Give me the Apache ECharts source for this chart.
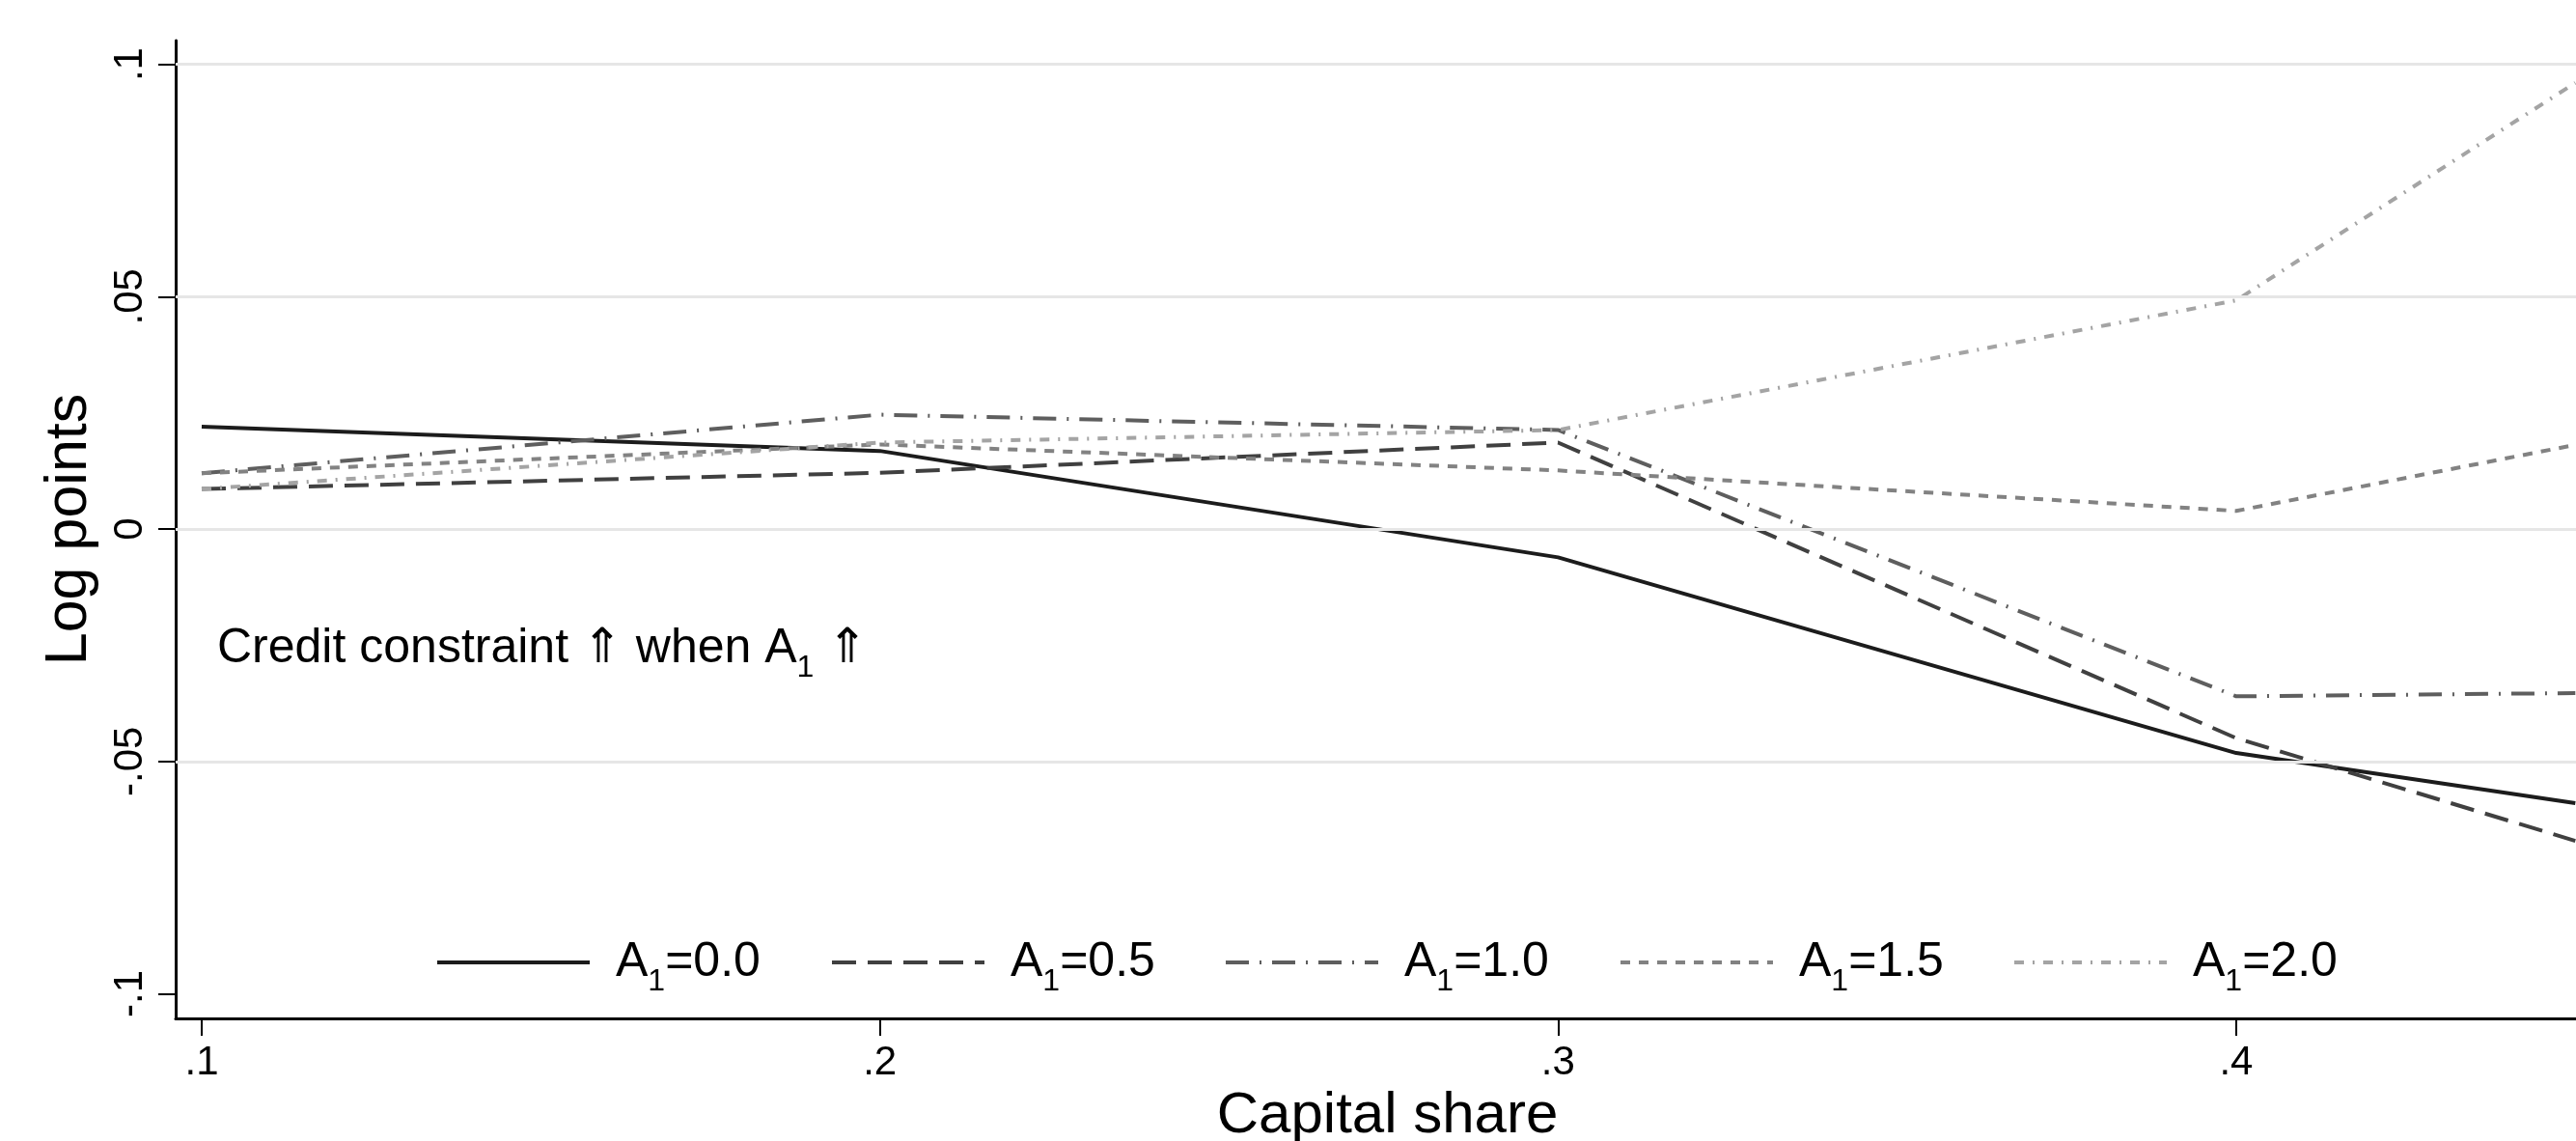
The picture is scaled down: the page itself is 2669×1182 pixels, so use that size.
<!DOCTYPE html>
<html><head><meta charset="utf-8">
<script src="https://cdn.jsdelivr.net/npm/echarts@6/dist/echarts.min.js"></script>
<style>html,body{margin:0;padding:0;background:#fff}#c{width:2669px;height:1182px}</style>
</head><body><div id="c"></div>
<script>
// ---- data ----
const capitalShare = [0.1, 0.2, 0.3, 0.4, 0.45];
const a1_00 = [0.0220, 0.0168, -0.0061, -0.0482, -0.0590];
const a1_05 = [0.0086, 0.0121, 0.0186, -0.0450, -0.0671];
const a1_10 = [0.0120, 0.0246, 0.0213, -0.0360, -0.0353];
const a1_15 = [0.0120, 0.0182, 0.0126, 0.0039, 0.0181];
const a1_20 = [0.0086, 0.0186, 0.0213, 0.0492, 0.0960];
const seriesNames = ['A1=0.0', 'A1=0.5', 'A1=1.0', 'A1=1.5', 'A1=2.0'];
const xTicks = [0.1, 0.2, 0.3, 0.4];
const xTickLabels = ['.1', '.2', '.3', '.4'];
const yTicks = [-0.1, -0.05, 0, 0.05, 0.1];
const yTickLabels = ['-.1', '-.05', '0', '.05', '.1'];
const yGridValues = [0.1, 0.05, 0, -0.05];
const annotation = ['Credit constraint \u21D1 when A', '1', ' \u21D1'];

// ---- styling ----
const FONT = "'Liberation Sans', Arial, Helvetica, sans-serif";
const allData = [a1_00, a1_05, a1_10, a1_15, a1_20];
const colors = ['#1c1c1c', '#404040', '#5e5e5e', '#828282', '#a4a4a4'];
const dashes = ['solid', [25, 12], [24, 11, 2, 11], [10, 9], [10, 9, 2, 9]];
const legendLeft = [451, 860, 1268, 1677, 2085];

const chart = echarts.init(document.getElementById('c'), null, {renderer: 'canvas'});

const rich = {
  a: {fontFamily: FONT, fontSize: 50, color: '#000', lineHeight: 60},
  s: {fontFamily: FONT, fontSize: 32, color: '#000', lineHeight: 60, verticalAlign: 'bottom', padding: [0, 0, -6, 0]},
  p: {fontFamily: FONT, fontSize: 50, color: '#000', lineHeight: 60, padding: [0, 0, 0, 22]}
};

const series = seriesNames.map((n, i) => ({
  name: n,
  type: 'line',
  data: capitalShare.map((x, j) => [x, allData[i][j]]),
  symbol: 'none',
  z: 3,
  lineStyle: {color: colors[i], width: 4, type: dashes[i]},
  itemStyle: {color: colors[i]}
}));
series.unshift({
  name: 'grid',
  type: 'line',
  data: [],
  z: 1,
  silent: true,
  markLine: {
    silent: true,
    symbol: 'none',
    label: {show: false},
    lineStyle: {color: '#e6e6e6', width: 3, type: 'solid'},
    data: yGridValues.map(v => ({yAxis: v}))
  }
});

const legends = seriesNames.map((n, i) => ({
  data: [n],
  left: legendLeft[i],
  top: 972,
  itemWidth: 158,
  itemHeight: 60,
  padding: 0,
  selectedMode: false,
  lineStyle: {width: 4},
  itemStyle: {opacity: 0, borderWidth: 0},
  formatter: name => '{p|A}{s|' + name.slice(1, 2) + '}{a|' + name.slice(2) + '}',
  textStyle: {rich: rich}
}));

chart.setOption({
  animation: false,
  backgroundColor: '#fff',
  grid: {left: 182, right: 0, top: 42, bottom: 127, containLabel: false, outerBoundsMode: 'none'},
  xAxis: {
    type: 'value',
    min: 0.09616, max: 0.4501,
    name: 'Capital share',
    nameLocation: 'middle',
    nameGap: 67,
    nameTextStyle: {fontFamily: FONT, fontSize: 60, color: '#000', padding: [0, 0, 0, 24]},
    axisLine: {show: true, onZero: false, lineStyle: {color: '#000', width: 3}},
    axisTick: {show: true, length: 18, customValues: xTicks, lineStyle: {color: '#000', width: 2}},
    axisLabel: {
      customValues: xTicks, margin: 25,
      fontFamily: FONT, fontSize: 42, color: '#000',
      formatter: v => xTickLabels[xTicks.findIndex(t => Math.abs(t - v) < 1e-9)]
    },
    splitLine: {show: false}
  },
  yAxis: {
    type: 'value',
    min: -0.1053, max: 0.1051,
    name: 'Log points',
    nameLocation: 'middle',
    nameGap: 79,
    nameRotate: 90,
    nameTextStyle: {fontFamily: FONT, fontSize: 61, color: '#000'},
    axisLine: {show: true, onZero: false, lineStyle: {color: '#000', width: 3}},
    axisTick: {show: true, length: 18, customValues: yTicks, lineStyle: {color: '#000', width: 2}},
    axisLabel: {
      customValues: yTicks, rotate: 90, margin: 26,
      fontFamily: FONT, fontSize: 42, color: '#000',
      formatter: v => yTickLabels[yTicks.findIndex(t => Math.abs(t - v) < 1e-9)]
    },
    splitLine: {show: false}
  },
  legend: legends,
  graphic: [{
    type: 'text',
    left: 225,
    top: 647,
    silent: true,
    style: {
      text: '{a|' + annotation[0] + '}{s|' + annotation[1] + '}{a|' + annotation[2] + '}',
      rich: rich
    }
  }],
  series: series
});
</script>
</body></html>
